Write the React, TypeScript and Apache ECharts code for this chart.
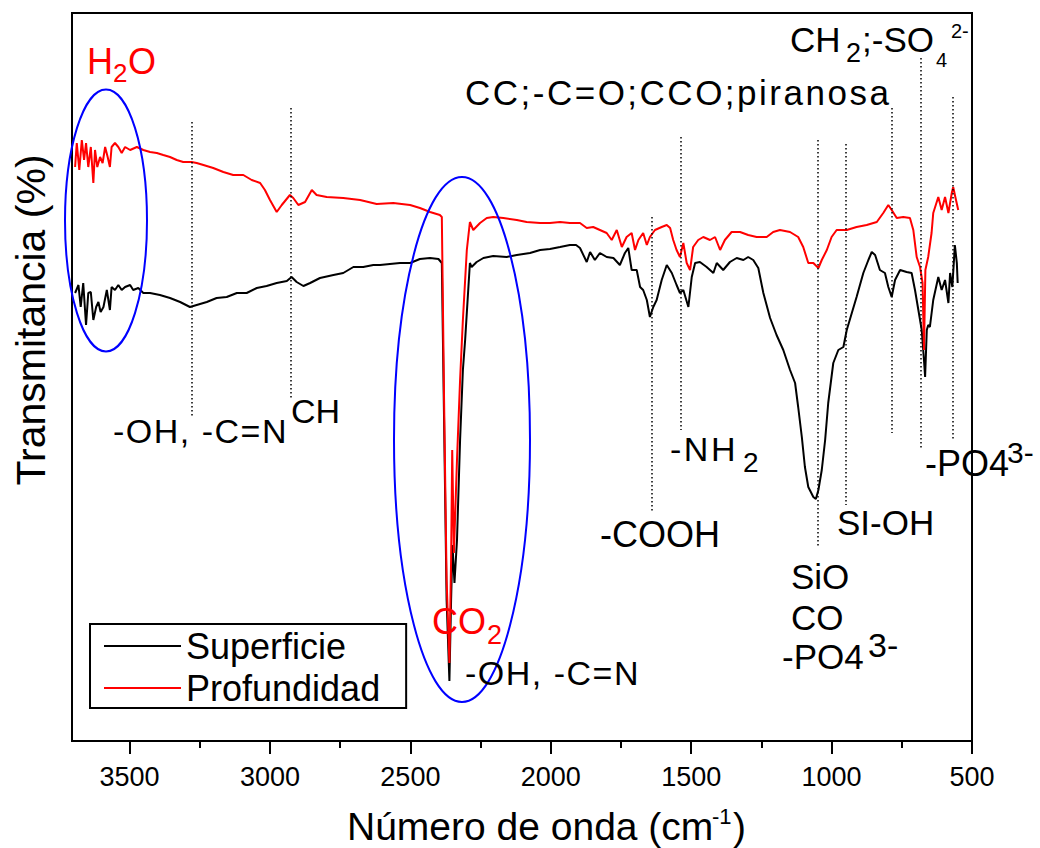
import React, { useEffect, useRef } from "react";
import * as echarts from "echarts";

const FONT = "'Liberation Sans', Arial, Helvetica, sans-serif";

// Superficie (black) spectrum: wavenumber (cm-1) and transmittance (arbitrary %)
const SUP_WN = [3694,3682,3674,3665,3655,3647,3638,3629,3619,3611,3603,3593,3581,3570,3564,3552,3540,3528,3516,3498,3487,3469,3451,3427,3392,3356,3320,3285,3261,3225,3190,3154,3118,3083,3047,3012,2976,2940,2923,2905,2881,2857,2822,2774,2739,2703,2668,2632,2608,2573,2537,2501,2466,2430,2400,2388,2380,2371,2361,2355,2350,2343,2334,2323,2313,2305,2294,2288,2282,2264,2240,2205,2157,2121,2074,2038,2003,1967,1932,1910,1896,1872,1860,1843,1825,1801,1777,1754,1736,1724,1712,1694,1682,1671,1658,1647,1635,1623,1605,1587,1569,1552,1540,1528,1510,1498,1486,1469,1445,1421,1409,1386,1362,1338,1314,1297,1279,1261,1243,1219,1196,1172,1148,1130,1119,1106,1095,1083,1065,1056,1047,1035,1023,1012,994,976,958,946,928,911,887,869,857,845,828,810,798,786,774,756,733,715,703,691,679,671,667,661,656,650,638,620,608,596,584,578,570,561,554,551];
const SUP_T = [44.8,45.6,43.4,45.8,41.6,44.8,44.9,42.1,43.4,43.9,42.9,43.4,45.1,43.1,45.4,45.1,45.6,45.1,45.4,45.6,45.1,45.3,44.8,44.8,44.6,44.3,43.9,43.4,43.6,43.9,44.3,44.4,44.8,44.8,45.3,45.5,45.8,46.0,46.4,45.9,45.5,45.8,46.3,46.6,46.8,47.4,47.4,47.6,47.6,47.7,47.8,47.8,48.2,48.3,48.2,47.8,32.1,14.1,6.0,14.1,19.6,15.8,20.1,30.1,37.1,40.1,45.1,47.8,47.4,47.9,48.3,48.5,48.4,48.6,48.8,49.1,49.2,49.4,49.6,49.6,49.3,47.9,48.9,48.1,48.8,48.4,48.3,47.6,48.8,49.3,47.1,47.1,45.4,45.1,44.1,42.4,43.4,44.1,46.1,47.6,46.8,45.6,44.8,45.1,43.4,46.4,47.8,47.9,47.4,46.8,47.8,47.1,47.9,48.3,48.1,48.4,48.1,47.3,44.8,42.3,40.6,39.1,37.1,35.8,33.4,30.4,27.4,25.4,24.4,24.2,25.1,27.1,30.1,33.8,37.8,39.1,39.4,41.1,42.8,44.4,46.8,48.1,48.9,48.6,47.1,46.8,45.4,44.4,46.1,47.1,46.9,46.8,45.1,43.1,41.1,38.1,36.4,41.1,41.6,41.4,44.1,46.4,45.1,46.1,43.8,46.8,45.4,49.6,47.8,45.8];

// Profundidad (red) spectrum
const PRO_WN = [3694,3688,3679,3670,3662,3655,3647,3638,3629,3623,3615,3605,3596,3587,3578,3570,3564,3552,3540,3528,3516,3498,3474,3451,3427,3403,3380,3356,3332,3309,3279,3261,3237,3202,3166,3131,3095,3065,3035,3018,3000,2976,2958,2929,2917,2899,2875,2851,2834,2798,2739,2679,2620,2561,2501,2466,2430,2395,2388,2380,2371,2361,2355,2351,2345,2334,2323,2313,2299,2288,2276,2252,2228,2205,2169,2121,2086,2038,2003,1967,1932,1896,1872,1849,1825,1801,1783,1765,1747,1730,1712,1700,1688,1671,1658,1647,1629,1605,1587,1575,1564,1552,1540,1528,1516,1504,1493,1475,1457,1433,1415,1397,1380,1356,1326,1297,1267,1231,1208,1184,1148,1119,1101,1083,1065,1047,1035,1017,1000,982,946,911,875,839,816,798,786,768,745,721,709,697,685,676,671,666,656,644,638,620,608,596,584,572,567,557,549];
const PRO_T = [57.4,59.8,57.1,60.1,58.1,59.8,57.4,59.4,55.8,59.1,57.4,58.4,57.8,59.4,58.4,57.4,59.4,59.8,59.4,58.8,59.4,59.1,59.4,59.1,58.9,58.8,58.6,58.4,58.1,57.9,57.9,57.8,57.6,57.3,56.9,56.6,56.6,56.1,55.8,55.1,54.1,52.9,53.6,54.6,54.3,53.6,53.9,55.1,54.6,54.4,54.3,54.1,53.7,53.8,53.6,53.3,52.9,52.6,52.4,34.1,16.1,7.8,18.1,29.1,18.8,28.1,36.1,42.1,49.1,51.9,51.1,51.8,52.3,52.4,52.3,52.1,51.9,51.8,51.8,51.9,51.8,51.8,51.3,51.4,51.1,50.8,50.1,51.1,49.4,50.4,50.8,49.1,50.1,50.8,49.6,50.4,51.1,51.4,51.6,51.3,50.1,49.1,48.4,49.8,47.8,47.1,49.4,50.1,50.4,50.1,50.4,49.1,50.1,50.9,50.9,50.6,50.4,50.4,50.9,51.1,50.9,50.4,49.4,47.8,47.8,47.3,48.1,49.1,50.4,51.1,51.1,51.4,51.6,51.9,52.8,53.6,53.1,52.3,52.4,52.3,51.1,48.4,47.4,45.8,39.1,47.1,48.4,50.8,52.8,54.4,53.1,54.4,52.8,54.8,55.4,54.1,53.1];

// Dotted band markers: wavenumber, top and bottom (transmittance units)
const DOT_WN = [3279, 2925, 1640, 1536, 1048, 949, 785, 682, 568];
const DOT_TOP = [61.9, 63.3, 52.4, 60.4, 60.1, 59.7, 63.3, 68.3, 64.4];
const DOT_BOTTOM = [32.3, 34.1, 22.9, 31.1, 19.3, 23.6, 30.8, 29.3, 30.1];

const MAJOR_TICKS = [500, 1000, 1500, 2000, 2500, 3000, 3500];
const MINOR_TICKS = [750, 1250, 1750, 2250, 2750, 3250];
const SERIES_NAMES = ["Superficie", "Profundidad"];

const X_MIN = 500;
const X_MAX = 3705;
const Y_MIN = 0;
const Y_MAX = 72.8;

// extra tracking for the widely spaced annotation texts
const LETTER_SPACING: Record<string, number> = {
  "CC;-C=O;CCO;piranosa": 2.5,
  "-OH, -C=N": 1.5,
  "-NH": 2.5,
};

function txt(text: string, x: number, y: number, size: number, color = "#000") {
  return {
    type: "text",
    x,
    y,
    z: 100,
    silent: true,
    style: {
      text,
      fill: color,
      fontSize: size,
      fontFamily: FONT,
      align: "left",
      verticalAlign: "middle",
    },
  };
}

export default function App() {
  const ref = useRef<HTMLDivElement>(null);

  useEffect(() => {
    const el = ref.current!;
    const chart = echarts.init(el, null, { renderer: "svg" });

    const sup = SUP_WN.map((w, i) => [w, SUP_T[i]]);
    const pro = PRO_WN.map((w, i) => [w, PRO_T[i]]);
    const dots = DOT_WN.map((w, i) => [
      { coord: [w, DOT_TOP[i]] },
      { coord: [w, DOT_BOTTOM[i]] },
    ]);

    const RED = "#ff0000";
    const graphic: any[] = [
      {
        type: "ellipse",
        z: 90,
        silent: true,
        shape: { cx: 106, cy: 220.5, rx: 41, ry: 131 },
        style: { fill: "none", stroke: "#0000ff", lineWidth: 2 },
      },
      {
        type: "ellipse",
        z: 90,
        silent: true,
        shape: { cx: 462, cy: 439.5, rx: 68, ry: 262.5 },
        style: { fill: "none", stroke: "#0000ff", lineWidth: 2 },
      },
      txt("H", 87, 61, 36, RED),
      txt("2", 113, 73, 26, RED),
      txt("O", 128, 61, 36, RED),
      txt("CO", 432, 621, 36, RED),
      txt("2", 487, 635, 27, RED),
      txt("-OH, -C=N", 113, 431, 34),
      txt("CH", 291, 411, 34),
      txt("-OH, -C=N", 465, 673, 34),
      txt("-NH", 670, 449, 34),
      txt("2", 743, 462, 28),
      txt("-COOH", 600, 534, 36),
      txt("SiO", 791, 576, 35),
      txt("CO", 791, 617, 35),
      txt("-PO4", 782, 656, 35),
      txt("3-", 868, 645, 34),
      txt("SI-OH", 837, 522, 35),
      txt("-PO4", 925, 463, 36),
      txt("3-", 1007, 452, 30),
      txt("CC;-C=O;CCO;piranosa", 465, 92, 35),
      txt("CH", 790, 39, 35),
      txt("2", 846, 53, 27),
      txt(";-SO", 862, 39, 35),
      txt("4", 936, 60, 20),
      txt("2-", 951, 31, 20),
      txt("Número de onda (cm", 347, 826, 39),
      txt("-1", 712, 816, 22),
      txt(")", 733, 826, 39),
      {
        type: "text",
        x: 31,
        y: 320,
        rotation: Math.PI / 2,
        z: 100,
        silent: true,
        style: {
          text: "Transmitancia (%)",
          fill: "#000",
          fontSize: 41,
          fontFamily: FONT,
          align: "center",
          verticalAlign: "middle",
        },
      },
    ];

    chart.setOption({
      animation: false,
      backgroundColor: "#fff",
      textStyle: { fontFamily: FONT },
      grid: {
        left: 72,
        right: 68,
        top: 13,
        bottom: 107,
        show: true,
        borderColor: "#000",
        borderWidth: 2,
        backgroundColor: "transparent",
      },
      legend: {
        data: SERIES_NAMES,
        orient: "vertical",
        left: 90,
        top: 624,
        selectedMode: false,
        icon: "rect",
        itemWidth: 77,
        itemHeight: 2,
        itemGap: 6,
        padding: [4, 26, 2, 14],
        borderColor: "#000",
        borderWidth: 2,
        textStyle: { fontSize: 36, fontFamily: FONT, color: "#000", lineHeight: 36 },
      },
      xAxis: [
        {
          type: "value",
          min: X_MIN,
          max: X_MAX,
          interval: 500,
          inverse: true,
          position: "bottom",
          axisLine: { show: true, lineStyle: { color: "#000", width: 2 } },
          axisTick: {
            show: true,
            inside: false,
            length: 13,
            customValues: MAJOR_TICKS,
            lineStyle: { color: "#000", width: 2 },
          },
          axisLabel: {
            customValues: MAJOR_TICKS,
            formatter: (v: number) => String(v),
            fontSize: 27,
            color: "#000",
            fontFamily: FONT,
            margin: 22,
          },
          splitLine: { show: false },
        },
        {
          type: "value",
          min: X_MIN,
          max: X_MAX,
          interval: 500,
          inverse: true,
          position: "bottom",
          axisLine: { show: false },
          axisTick: {
            show: true,
            inside: false,
            length: 7,
            customValues: MINOR_TICKS,
            lineStyle: { color: "#000", width: 2 },
          },
          axisLabel: { show: false },
          splitLine: { show: false },
        },
      ],
      yAxis: {
        type: "value",
        min: Y_MIN,
        max: Y_MAX,
        axisLine: { show: true, lineStyle: { color: "#000", width: 2 } },
        axisTick: { show: false },
        axisLabel: { show: false },
        splitLine: { show: false },
      },
      series: [
        {
          name: SERIES_NAMES[0],
          type: "line",
          data: sup,
          symbol: "none",
          lineStyle: { color: "#000", width: 2 },
          itemStyle: { color: "#000" },
          z: 2,
          markLine: {
            silent: true,
            symbol: ["none", "none"],
            label: { show: false },
            lineStyle: { color: "#000", width: 1.5, type: [1.5, 2.5] },
            data: dots,
          },
        },
        {
          name: SERIES_NAMES[1],
          type: "line",
          data: pro,
          symbol: "none",
          lineStyle: { color: RED, width: 2 },
          itemStyle: { color: RED },
          z: 3,
        },
      ],
      graphic,
    });

    const applySpacing = () => {
      el.querySelectorAll("text").forEach((t) => {
        const s = LETTER_SPACING[(t.textContent || "").trim()];
        if (s) t.setAttribute("letter-spacing", String(s));
      });
    };
    applySpacing();
    chart.on("finished", applySpacing);

    return () => chart.dispose();
  }, []);

  return (
    <div
      ref={ref}
      style={{ position: "fixed", left: 0, top: 0, width: 1040, height: 848, background: "#fff" }}
    />
  );
}
